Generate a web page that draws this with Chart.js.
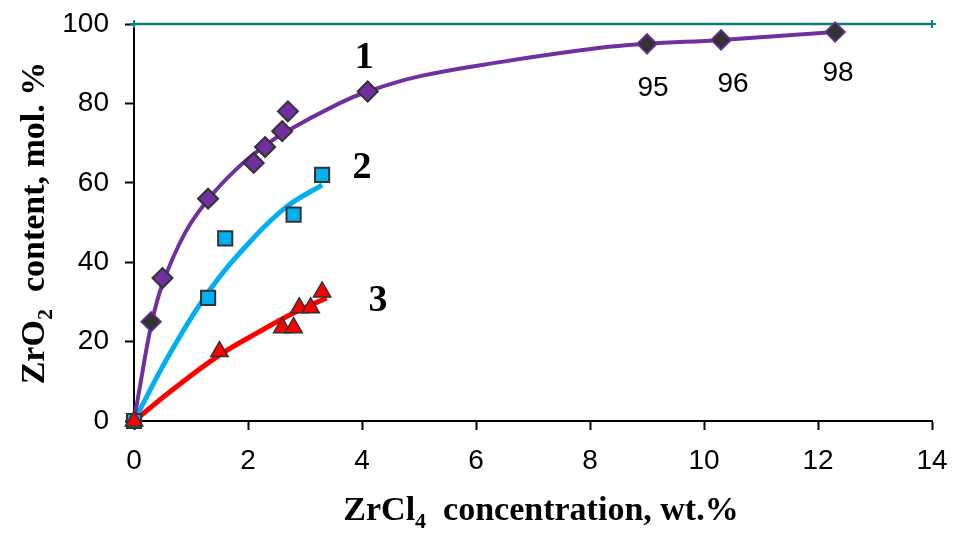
<!DOCTYPE html>
<html><head><meta charset="utf-8">
<script src="https://cdn.jsdelivr.net/npm/chart.js@4.4.1/dist/chart.umd.min.js"></script>
<style>html,body{margin:0;padding:0;background:#fff}#wrap{width:953px;height:533px;position:relative}</style>
</head><body><div id="wrap"><canvas id="c"></canvas></div>
<script>
// ---- data ----
const xTickValues = [0, 2, 4, 6, 8, 10, 12, 14];
const yTickValues = [0, 20, 40, 60, 80, 100];

// series 1: measured points (purple diamonds)
const s1X = [0.5, 1.3, 2.1, 2.3, 2.6, 2.7, 4.1];
const s1Y = [36, 56, 65, 69, 73, 78, 83];
// series 1: dark diamonds
const s1bX = [0.3, 9.0, 10.3, 12.3];
const s1bY = [25, 95, 96, 98];
const s1bLabels = ['', '95', '96', '98'];
// series 1: fitted curve
const c1X = [0, 0.12, 0.3, 0.5, 0.9, 1.3, 1.8, 2.26, 2.68, 3.6, 4.1, 5.0, 6.42, 8.18, 9.0, 10.3, 12.3];
const c1Y = [0, 10, 24, 34.5, 47.5, 55.8, 63.5, 69, 73, 80, 83, 86.8, 90.4, 94, 95, 96, 98];

// series 2: squares + curve
const s2X = [0, 1.3, 1.6, 2.8, 3.3];
const s2Y = [0, 31, 46, 52, 62];
const c2X = [0, 0.63, 1.33, 2.09, 2.68, 3.3];
const c2Y = [0, 17, 33, 46, 54, 59.5];

// series 3: triangles + curve
const s3X = [0, 1.5, 2.6, 2.8, 2.9, 3.1, 3.3];
const s3Y = [0, 17.5, 23.5, 23.5, 28.5, 28.5, 32.5];
const c3X = [0, 0.75, 1.5, 2.2, 2.8, 3.38];
const c3Y = [0, 8.7, 16.6, 22.5, 27.2, 31];

// 100 % reference line
const refX = [0, 14];
const refY = [100, 100];

// curve numbers
const curveNames = ['1', '2', '3'];
const curveNameAt = [[4.04, 88.9], [4.0, 61.2], [4.28, 27.7]];

const pts = (xs, ys) => xs.map((x, i) => ({x, y: ys[i]}));

const PURPLE = '#7030A0', BLUE = '#00B0F0', RED = '#FF0000', DARK = '#333333', TEAL = '#0E8080';

const annot = {
  id: 'annot',
  afterDatasetsDraw(chart) {
    const ctx = chart.ctx;
    const xs = chart.scales.x, ys = chart.scales.y;
    ctx.save();
    ctx.fillStyle = '#000';
    ctx.textAlign = 'center';
    ctx.textBaseline = 'alphabetic';
    // value labels under dark diamonds
    ctx.font = '28px "Liberation Sans", Arial, sans-serif';
    const offs = [[0,0],[6,52],[12,52],[3,49]];
    s1bLabels.forEach((t, i) => {
      if (!t) return;
      const px = xs.getPixelForValue(s1bX[i]) + offs[i][0];
      const py = ys.getPixelForValue(s1bY[i]) + offs[i][1];
      ctx.fillText(t, px, py);
    });
    // curve numbers
    ctx.font = 'bold 38px "Liberation Serif", "Times New Roman", serif';
    curveNames.forEach((t, i) => {
      ctx.fillText(t, xs.getPixelForValue(curveNameAt[i][0]), ys.getPixelForValue(curveNameAt[i][1]));
    });
    // axis titles
    const big = 'bold 34px "Liberation Serif", "Times New Roman", serif';
    const small = 'bold 22px "Liberation Serif", "Times New Roman", serif';
    function drawSub(parts, cx, cy) {
      let w = 0;
      parts.forEach(p => { ctx.font = p[1] ? small : big; w += ctx.measureText(p[0]).width; });
      let x = cx - w / 2;
      ctx.textAlign = 'left';
      ctx.textBaseline = 'alphabetic';
      parts.forEach(p => {
        ctx.font = p[1] ? small : big;
        ctx.fillText(p[0], x, cy + (p[1] ? 8 : 0));
        x += ctx.measureText(p[0]).width;
      });
    }
    drawSub([['ZrCl', 0], ['4', 1], ['  concentration, wt.%', 0]], 541, 520);
    ctx.save();
    ctx.translate(44, 223);
    ctx.rotate(-Math.PI / 2);
    drawSub([['ZrO', 0], ['2', 1], ['  content, mol. %', 0]], 0, 0);
    ctx.restore();
    ctx.restore();
  }
};

const tickFont = {family: '"Liberation Sans", Arial, sans-serif', size: 28};
const zeroPad = s => { s.paddingTop = 0; s.paddingBottom = 0; s.paddingLeft = 0; s.paddingRight = 0; };

new Chart(document.getElementById('c'), {
  type: 'scatter',
  data: {
    datasets: [
      {data: pts(s1bX, s1bY), pointStyle: 'rectRot', pointRadius: 10, backgroundColor: DARK, borderColor: PURPLE, pointBorderWidth: 1.5, showLine: false, clip: false},
      {data: pts(s1X, s1Y), pointStyle: 'rectRot', pointRadius: 10, backgroundColor: PURPLE, borderColor: DARK, pointBorderWidth: 2, showLine: false, clip: false},
      {data: pts(s3X, s3Y), pointStyle: 'triangle', pointRadius: 10, backgroundColor: RED, borderColor: DARK, pointBorderWidth: 1.5, showLine: false, clip: false},
      {data: pts(s2X, s2Y), pointStyle: 'rect', pointRadius: 10, backgroundColor: BLUE, borderColor: DARK, pointBorderWidth: 2, showLine: false, clip: false},
      {data: pts(c1X, c1Y), showLine: true, pointRadius: 0, borderColor: PURPLE, borderWidth: 4, tension: 0.4, clip: false},
      {data: pts(c2X, c2Y), showLine: true, pointRadius: 0, borderColor: BLUE, borderWidth: 5, tension: 0.4, clip: false},
      {data: pts(c3X, c3Y), showLine: true, pointRadius: 0, borderColor: RED, borderWidth: 5, tension: 0.4, clip: false},
      {data: pts(refX, refY), showLine: true, pointStyle: 'cross', pointRadius: 4, pointBorderWidth: 2, borderColor: TEAL, backgroundColor: TEAL, borderWidth: 2.5, clip: false}
    ]
  },
  options: {
    responsive: true, maintainAspectRatio: false, animation: false,
    layout: {padding: {left: 0, top: 24, right: 21, bottom: 0}},
    plugins: {legend: {display: false}, tooltip: {enabled: false}},
    scales: {
      x: {
        type: 'linear', min: 0, max: 14,
        afterBuildTicks: s => { s.ticks = xTickValues.map(v => ({value: v})); },
        afterFit: s => { s.height = 112; zeroPad(s); },
        grid: {drawOnChartArea: false, drawTicks: true, tickLength: 9, tickWidth: 2, tickColor: '#000'},
        border: {color: '#000', width: 2},
        ticks: {color: '#000', font: tickFont, padding: 14, maxRotation: 0}
      },
      y: {
        type: 'linear', min: 0, max: 100,
        afterBuildTicks: s => { s.ticks = yTickValues.map(v => ({value: v})); },
        afterFit: s => { s.width = 134; zeroPad(s); },
        grid: {drawOnChartArea: false, drawTicks: true, tickLength: 9, tickWidth: 2, tickColor: '#000'},
        border: {color: '#000', width: 2},
        ticks: {color: '#000', font: tickFont, padding: 16}
      }
    }
  },
  plugins: [annot]
});
</script></body></html>
